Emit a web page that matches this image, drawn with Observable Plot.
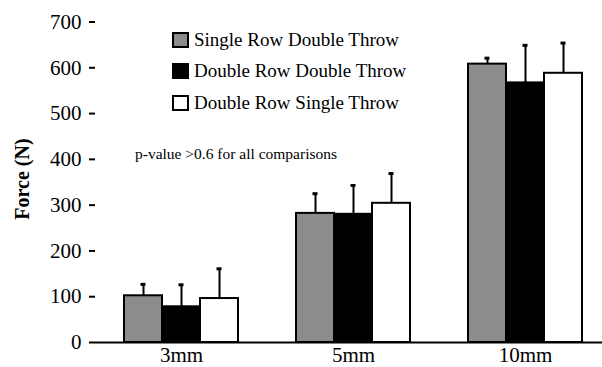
<!DOCTYPE html>
<html>
<head>
<meta charset="utf-8">
<script src="https://cdn.jsdelivr.net/npm/d3@7"></script>
<script src="https://cdn.jsdelivr.net/npm/@observablehq/plot@0.6"></script>
<style>
  body { margin: 0; background: #fff; }
  #wrap { position: relative; width: 602px; height: 367px; overflow: hidden;
          font-family: "Liberation Serif", "Times New Roman", serif; color: #000; }
  #legend { position: absolute; left: 172px; top: 24px; }
  .row { display: flex; align-items: center; height: 31.5px; font-size: 19px; white-space: nowrap; }
  .sw { width: 13px; height: 12px; border: 2px solid #000; margin-right: 5px; box-sizing: content-box; }
  #pval { position: absolute; left: 135px; top: 145px; font-size: 15.5px; white-space: nowrap; }
  #ylab { position: absolute; left: 22px; top: 179px; font-size: 20px; font-weight: bold;
          transform: translate(-50%, -50%) rotate(-90deg); white-space: nowrap; }
</style>
</head>
<body>
<div id="wrap">
  <div id="chart"></div>
  <div id="legend"></div>
  <div id="pval"></div>
  <div id="ylab"></div>
</div>
<script>
// ---- data ----
const groups = ["3mm", "5mm", "10mm"];
const series = ["Single Row Double Throw", "Double Row Double Throw", "Double Row Single Throw"];
const seriesColors = ["#8c8c8c", "#000000", "#ffffff"];
const singleRowDoubleThrow = [102, 282, 608];
const singleRowDoubleThrowSD = [25, 43, 13];
const doubleRowDoubleThrow = [78, 280, 567];
const doubleRowDoubleThrowSD = [48, 63, 82];
const doubleRowSingleThrow = [96, 304, 588];
const doubleRowSingleThrowSD = [65, 65, 66];
const yTicks = [0, 100, 200, 300, 400, 500, 600, 700];
const yLabel = "Force (N)";
const note = "p-value >0.6 for all comparisons";

const means = [singleRowDoubleThrow, doubleRowDoubleThrow, doubleRowSingleThrow];
const sds = [singleRowDoubleThrowSD, doubleRowDoubleThrowSD, doubleRowSingleThrowSD];
const rows = [];
groups.forEach((g, gi) => series.forEach((s, si) => {
  rows.push({group: g, series: s, value: means[si][gi], top: means[si][gi] + sds[si][gi]});
}));

const chart = Plot.plot({
  width: 602, height: 367,
  marginLeft: 94, marginRight: -9, marginTop: 21.5, marginBottom: 25,
  style: {fontFamily: "'Liberation Serif', 'Times New Roman', serif", fontSize: "21px", color: "#000", background: "transparent"},
  fx: {domain: groups, padding: 0, label: null},
  x: {domain: series, paddingInner: 0, paddingOuter: 0.728, axis: null},
  y: {domain: [0, 700], axis: null},
  color: {domain: series, range: seriesColors},
  marks: [
    Plot.axisFx({anchor: "bottom", tickSize: 0, tickPadding: 5, fontSize: 21, label: null}),
    Plot.axisY({ticks: yTicks, tickSize: 6, tickPadding: 8, strokeWidth: 2, fontSize: 21, label: null, line: true}),
    Plot.ruleX(rows, {fx: "group", x: "series", y1: "value", y2: "top", stroke: "#000", strokeWidth: 2}),
    Plot.tickY(rows, {fx: "group", x: "series", y: "top", stroke: "#000", strokeWidth: 3, insetLeft: 16.5, insetRight: 16.5}),
    Plot.barY(rows, {fx: "group", x: "series", y: "value", fill: "series", stroke: "#000", strokeWidth: 2}),
    Plot.ruleY([0], {stroke: "#000", strokeWidth: 2})
  ]
});
document.getElementById("chart").appendChild(chart);

const legend = document.getElementById("legend");
series.forEach((s, i) => {
  const row = document.createElement("div");
  row.className = "row";
  const sw = document.createElement("div");
  sw.className = "sw";
  sw.style.background = seriesColors[i];
  const t = document.createElement("span");
  t.textContent = s;
  row.appendChild(sw); row.appendChild(t);
  legend.appendChild(row);
});
document.getElementById("pval").textContent = note;
document.getElementById("ylab").textContent = yLabel;
</script>
</body>
</html>
